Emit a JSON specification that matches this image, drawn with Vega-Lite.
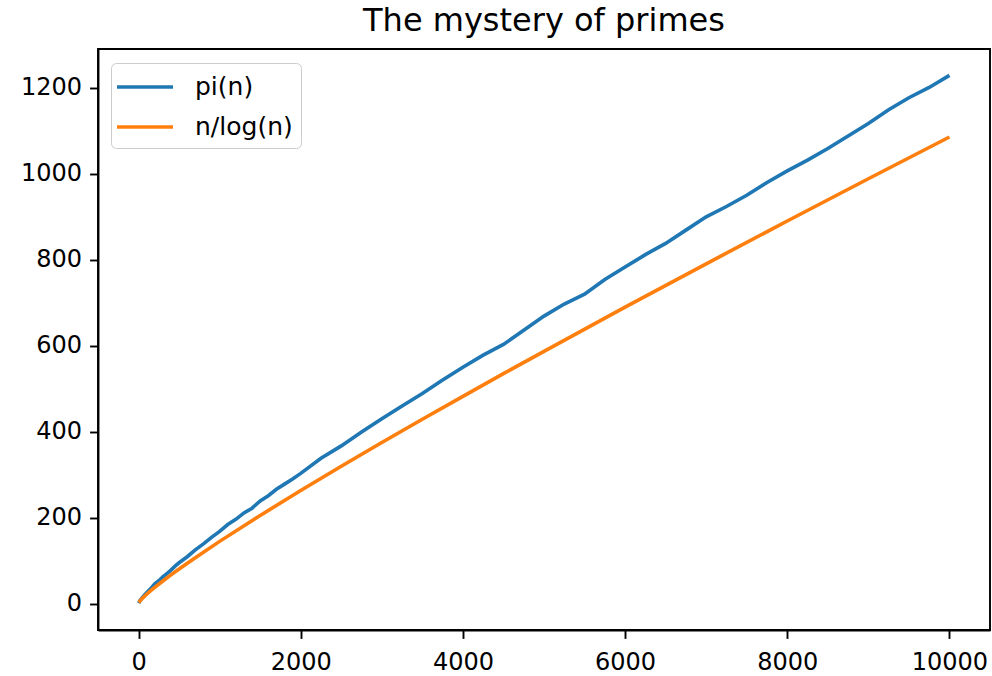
{
  "$schema": "https://vega.github.io/schema/vega-lite/v6.json",
  "width": 892,
  "height": 581,
  "autosize": {"type": "none"},
  "padding": {"left": 98, "top": 49, "right": 2, "bottom": 46},
  "title": {"text": "The mystery of primes", "font": "DejaVu Sans", "fontSize": 32, "fontWeight": "normal", "color": "black", "offset": 11, "anchor": "middle"},
  "config": {"view": {"stroke": "black", "strokeWidth": 1.9}, "font": "DejaVu Sans"},
  "data": {"values": [
    {"n": 2, "value": 1, "series": "pi(n)"},
    {"n": 10, "value": 4, "series": "pi(n)"},
    {"n": 20, "value": 8, "series": "pi(n)"},
    {"n": 30, "value": 10, "series": "pi(n)"},
    {"n": 50, "value": 15, "series": "pi(n)"},
    {"n": 100, "value": 25, "series": "pi(n)"},
    {"n": 150, "value": 35, "series": "pi(n)"},
    {"n": 200, "value": 46, "series": "pi(n)"},
    {"n": 250, "value": 53, "series": "pi(n)"},
    {"n": 300, "value": 62, "series": "pi(n)"},
    {"n": 350, "value": 70, "series": "pi(n)"},
    {"n": 400, "value": 78, "series": "pi(n)"},
    {"n": 450, "value": 87, "series": "pi(n)"},
    {"n": 500, "value": 95, "series": "pi(n)"},
    {"n": 600, "value": 109, "series": "pi(n)"},
    {"n": 700, "value": 125, "series": "pi(n)"},
    {"n": 800, "value": 139, "series": "pi(n)"},
    {"n": 900, "value": 154, "series": "pi(n)"},
    {"n": 1000, "value": 168, "series": "pi(n)"},
    {"n": 1100, "value": 184, "series": "pi(n)"},
    {"n": 1200, "value": 196, "series": "pi(n)"},
    {"n": 1300, "value": 211, "series": "pi(n)"},
    {"n": 1400, "value": 222, "series": "pi(n)"},
    {"n": 1500, "value": 239, "series": "pi(n)"},
    {"n": 1600, "value": 251, "series": "pi(n)"},
    {"n": 1700, "value": 266, "series": "pi(n)"},
    {"n": 1800, "value": 278, "series": "pi(n)"},
    {"n": 1900, "value": 290, "series": "pi(n)"},
    {"n": 2000, "value": 303, "series": "pi(n)"},
    {"n": 2250, "value": 338, "series": "pi(n)"},
    {"n": 2500, "value": 367, "series": "pi(n)"},
    {"n": 2750, "value": 399, "series": "pi(n)"},
    {"n": 3000, "value": 430, "series": "pi(n)"},
    {"n": 3250, "value": 460, "series": "pi(n)"},
    {"n": 3500, "value": 489, "series": "pi(n)"},
    {"n": 3750, "value": 520, "series": "pi(n)"},
    {"n": 4000, "value": 550, "series": "pi(n)"},
    {"n": 4250, "value": 578, "series": "pi(n)"},
    {"n": 4500, "value": 603, "series": "pi(n)"},
    {"n": 4750, "value": 636, "series": "pi(n)"},
    {"n": 5000, "value": 669, "series": "pi(n)"},
    {"n": 5250, "value": 697, "series": "pi(n)"},
    {"n": 5500, "value": 720, "series": "pi(n)"},
    {"n": 5750, "value": 754, "series": "pi(n)"},
    {"n": 6000, "value": 783, "series": "pi(n)"},
    {"n": 6250, "value": 812, "series": "pi(n)"},
    {"n": 6500, "value": 838, "series": "pi(n)"},
    {"n": 6750, "value": 869, "series": "pi(n)"},
    {"n": 7000, "value": 900, "series": "pi(n)"},
    {"n": 7250, "value": 924, "series": "pi(n)"},
    {"n": 7500, "value": 950, "series": "pi(n)"},
    {"n": 7750, "value": 980, "series": "pi(n)"},
    {"n": 8000, "value": 1007, "series": "pi(n)"},
    {"n": 8250, "value": 1032, "series": "pi(n)"},
    {"n": 8500, "value": 1059, "series": "pi(n)"},
    {"n": 8750, "value": 1088, "series": "pi(n)"},
    {"n": 9000, "value": 1117, "series": "pi(n)"},
    {"n": 9250, "value": 1149, "series": "pi(n)"},
    {"n": 9500, "value": 1177, "series": "pi(n)"},
    {"n": 9750, "value": 1201, "series": "pi(n)"},
    {"n": 10000, "value": 1229, "series": "pi(n)"},
    {"n": 2, "value": 2.885, "series": "n/log(n)"},
    {"n": 10, "value": 4.343, "series": "n/log(n)"},
    {"n": 20, "value": 6.676, "series": "n/log(n)"},
    {"n": 50, "value": 12.78, "series": "n/log(n)"},
    {"n": 100, "value": 21.71, "series": "n/log(n)"},
    {"n": 150, "value": 29.94, "series": "n/log(n)"},
    {"n": 200, "value": 37.75, "series": "n/log(n)"},
    {"n": 300, "value": 52.59, "series": "n/log(n)"},
    {"n": 400, "value": 66.76, "series": "n/log(n)"},
    {"n": 500, "value": 80.46, "series": "n/log(n)"},
    {"n": 700, "value": 106.86, "series": "n/log(n)"},
    {"n": 1000, "value": 144.76, "series": "n/log(n)"},
    {"n": 1500, "value": 205.1, "series": "n/log(n)"},
    {"n": 2000, "value": 263.1, "series": "n/log(n)"},
    {"n": 2500, "value": 319.5, "series": "n/log(n)"},
    {"n": 3000, "value": 374.7, "series": "n/log(n)"},
    {"n": 3500, "value": 428.9, "series": "n/log(n)"},
    {"n": 4000, "value": 482.3, "series": "n/log(n)"},
    {"n": 4500, "value": 535.0, "series": "n/log(n)"},
    {"n": 5000, "value": 587.0, "series": "n/log(n)"},
    {"n": 6000, "value": 689.7, "series": "n/log(n)"},
    {"n": 7000, "value": 790.6, "series": "n/log(n)"},
    {"n": 8000, "value": 890.2, "series": "n/log(n)"},
    {"n": 9000, "value": 988.5, "series": "n/log(n)"},
    {"n": 10000, "value": 1085.7, "series": "n/log(n)"}
  ]},
  "mark": {"type": "line", "strokeWidth": 3.6},
  "encoding": {
    "x": {
      "field": "n", "type": "quantitative",
      "scale": {"domain": [-500, 10500], "nice": false, "zero": false},
      "axis": {"values": [0, 2000, 4000, 6000, 8000, 10000], "format": "d", "title": null, "grid": false,
        "domainColor": "black", "domainWidth": 1.9, "tickColor": "black", "tickWidth": 1.9, "tickSize": 8.4,
        "labelFont": "DejaVu Sans", "labelFontSize": 24, "labelColor": "black", "labelPadding": 12, "labelFlush": false}
    },
    "y": {
      "field": "value", "type": "quantitative",
      "scale": {"domain": [-61.45, 1290.45], "nice": false, "zero": false},
      "axis": {"values": [0, 200, 400, 600, 800, 1000, 1200], "format": "d", "title": null, "grid": false,
        "domainColor": "black", "domainWidth": 1.9, "tickColor": "black", "tickWidth": 1.9, "tickSize": 8.4,
        "labelFont": "DejaVu Sans", "labelFontSize": 24, "labelColor": "black", "labelPadding": 8}
    },
    "color": {
      "field": "series", "type": "nominal",
      "scale": {"domain": ["pi(n)", "n/log(n)"], "range": ["#1f77b4", "#ff7f0e"]},
      "legend": {"orient": "none", "legendX": 13, "legendY": 14, "title": null,
        "symbolType": "M-2,0H2", "symbolSize": 784, "symbolStrokeWidth": 3.6, "symbolOffset": 10,
        "labelFont": "DejaVu Sans", "labelFontSize": 25, "labelColor": "black", "labelOffset": 34,
        "padding": 8, "strokeColor": "#cccccc", "fillColor": "rgba(255,255,255,0.8)", "cornerRadius": 5, "rowPadding": 11}
    }
  }
}
